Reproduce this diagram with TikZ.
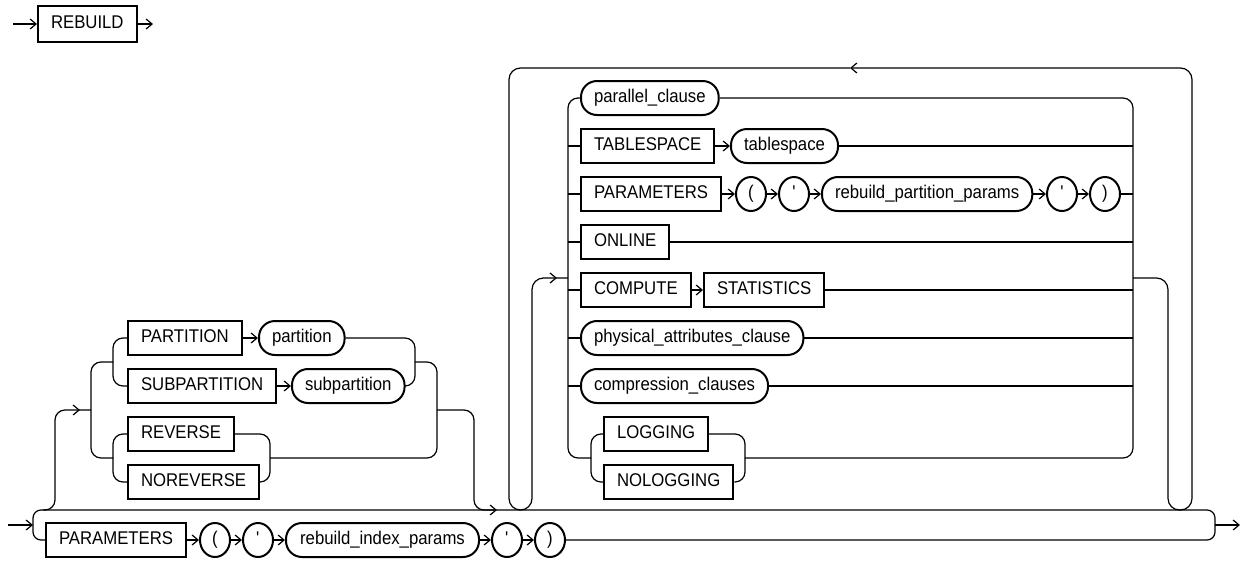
\documentclass[tikz,border=0pt]{standalone}
\usepackage{fontspec}
\setmainfont{Liberation Sans}[FakeStretch=0.91]
\usetikzlibrary{arrows.meta,shapes.geometric,decorations.markings}
\begin{document}
\begin{tikzpicture}[x=1pt,y=-1pt,
  line width=1.2pt,
  box/.style={draw, line width=2pt, anchor=west, inner xsep=13pt, inner ysep=0pt,
    minimum height=34pt, text height=13.2pt, text depth=3.5pt,
    font=\fontsize{18.4}{22}\selectfont},
  kw/.style={box, rectangle},
  nt/.style={box, rectangle, rounded corners=16pt},
  sym/.style={box, ellipse, minimum width=30pt, inner xsep=0pt},
  arr/.style={-{Straight Barb[length=6pt,width=10pt]}},
  midarr/.style={postaction={decorate}, decoration={markings,
    mark=at position #1 with {\arrow{Straight Barb[length=6pt,width=10pt]}}}},
  rc/.style={rounded corners=10pt},
  rcs/.style={rounded corners=8pt},
  rcl/.style={rounded corners=11.5pt},
]
\useasboundingbox (0,0) rectangle (1250,560);

% ---------- top: REBUILD ----------
\node[kw, minimum height=36pt] (rb) at (37,24) {REBUILD};
\coordinate (rbin) at (13,24);
\coordinate (rbout) at (153,24);
\draw[arr] (rbin) -- (rb.west);
\draw[arr] (rb.east) -- (rbout);

% ---------- main tracks ----------
\coordinate (S) at (8,525);
\coordinate (fk) at (33,525);
\coordinate (J) at (1215,525);
\coordinate (E) at (1240,525);
\coordinate (trk) at (1215,510);

\node[kw] (bp) at (45,540) {PARAMETERS};
\node[sym] (b1) at (199,540) {(};
\node[sym] (b2) at (242,540) {\textquotesingle};
\node[nt, minimum width=193pt] (ridx) at (285,540) {rebuild\_index\_params};
\node[sym] (b3) at (491,540) {\textquotesingle};
\node[sym] (b4) at (534,540) {)};

\draw[arr] (S) -- (fk);
\draw[rcs] (fk) |- (bp.west);
\draw[rcs] (fk) |- (trk) -- (J);
\draw[arr] (bp.east) -- (b1.west);
\draw[arr] (b1.east) -- (b2.west);
\draw[arr] (b2.east) -- (ridx.west);
\draw[arr] (ridx.east) -- (b3.west);
\draw[arr] (b3.east) -- (b4.west);
\draw[rcs] (b4.east) -| (J);
\draw[arr] (J) -- (E);

% ---------- left optional group ----------
\node[kw] (part) at (127,338) {PARTITION};
\node[nt] (partv) at (258,338) {partition};
\node[kw] (subp) at (127,386) {SUBPARTITION};
\node[nt] (subpv) at (291,386) {subpartition};
\node[kw] (rev) at (127,434) {REVERSE};
\node[kw] (norev) at (127,482) {NOREVERSE};

\coordinate (br0) at (43,510);
\coordinate (F1) at (91,410);
\coordinate (A0) at (113,362);
\coordinate (B0) at (113,458);
\coordinate (A1) at (415,362);
\coordinate (B1) at (270,458);
\coordinate (G1) at (437,410);
\coordinate (mrg) at (497,510);

\draw[rc, midarr=-11pt] (br0) -- (55,510) -- (55,410) -- (F1);
\draw[rc] (F1) |- (A0);
\draw[rc] (F1) |- (B0);
\draw[rc] (A0) |- (part.west);
\draw[rc] (A0) |- (subp.west);
\draw[rc] (B0) |- (rev.west);
\draw[rc] (B0) |- (norev.west);
\draw[arr] (part.east) -- (partv.west);
\draw[arr] (subp.east) -- (subpv.west);
\draw[rc] (partv.east) -| (A1);
\draw[rc] (subpv.east) -| (A1);
\draw[rc] (rev.east) -| (B1);
\draw[rc] (norev.east) -| (B1);
\draw[rc] (A1) -| (G1);
\draw[rc] (B1) -| (G1);
\draw[rc, arr] (G1) -- (474,410) -- (474,510) -- (mrg);

% ---------- inner choice (loop body) ----------
\node[nt] (pc) at (580,98) {parallel\_clause};
\node[kw] (ts) at (580,146) {TABLESPACE};
\node[nt] (tsv) at (730,146) {tablespace};
\node[kw] (ip) at (580,194) {PARAMETERS};
\node[sym] (ip1) at (735,194) {(};
\node[sym] (ip2) at (778,194) {\textquotesingle};
\node[nt] (rpp) at (821,194) {rebuild\_partition\_params};
\node[sym] (ip3) at (1046,194) {\textquotesingle};
\node[sym] (ip4) at (1089,194) {)};
\node[kw] (onl) at (580,242) {ONLINE};
\node[kw] (cmp) at (580,290) {COMPUTE};
\node[kw] (sta) at (703,290) {STATISTICS};
\node[nt] (pac) at (580,338) {physical\_attributes\_clause};
\node[nt] (cc) at (580,386) {compression\_clauses};
\node[kw] (lg) at (603,434) {LOGGING};
\node[kw] (nlg) at (603,482) {NOLOGGING};

\coordinate (LIN) at (568,278);
\coordinate (ROUT) at (1133,278);
\coordinate (L0) at (591,458);
\coordinate (L1) at (745,458);
\coordinate (ltop) at (850,68);

\draw[rc] (pc.west) -- (pc.west -| LIN) -- (LIN |- L0) -- (L0);
\draw[rc] (pc.east) -- (pc.east -| ROUT) -- (ROUT |- L1) -- (L1);
\foreach \n in {ts,ip,onl,cmp,pac,cc} \draw (\n.west -| LIN) -- (\n.west);
\foreach \n in {tsv,ip4,onl,sta,pac,cc} \draw (\n.east) -- (\n.east -| ROUT);
\draw[arr] (ts.east) -- (tsv.west);
\draw[arr] (ip.east) -- (ip1.west);
\draw[arr] (ip1.east) -- (ip2.west);
\draw[arr] (ip2.east) -- (rpp.west);
\draw[arr] (rpp.east) -- (ip3.west);
\draw[arr] (ip3.east) -- (ip4.west);
\draw[arr] (cmp.east) -- (sta.west);
\draw[rc] (L0) |- (lg.west);
\draw[rc] (L0) |- (nlg.west);
\draw[rc] (lg.east) -| (L1);
\draw[rc] (nlg.east) -| (L1);

% ---------- loop ----------
\draw[rcl, arr] (ROUT) -- (1168,278) -- (1168,510) -- (1192,510) -- (1192,68) -- (ltop);
\draw[rcl, midarr=-11pt] (ltop) -- (509,68) -- (509,510) -- (532,510) -- (532,278) -- (LIN);
\end{tikzpicture}
\end{document}
